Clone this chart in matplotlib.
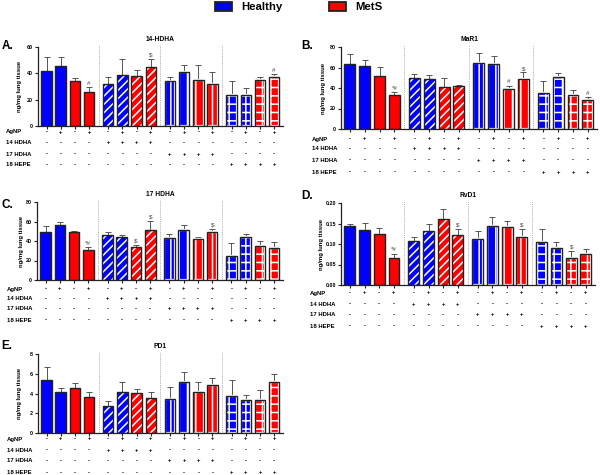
import matplotlib
matplotlib.use('Agg')
import matplotlib.pyplot as plt
from matplotlib.patches import Rectangle
import numpy as np

plt.rcParams['font.family'] = ['Liberation Sans', 'DejaVu Sans']
plt.rcParams['font.weight'] = 'bold'
plt.rcParams['hatch.linewidth'] = 1.1

# ---------------- data ----------------
groups = ['Healthy', 'Healthy', 'MetS', 'MetS'] * 4
row_labels = ['AgNP', '14 HDHA', '17 HDHA', '18 HEPE']
agnp = ['-', '+', '-', '+'] * 4
hdha14 = ['-'] * 4 + ['+'] * 4 + ['-'] * 8
hdha17 = ['-'] * 8 + ['+'] * 4 + ['-'] * 4
hepe18 = ['-'] * 12 + ['+'] * 4

titles = ['14-HDHA', 'MaR1', '17 HDHA', 'RvD1', 'PD1']
letters = ['A.', 'B.', 'C.', 'D.', 'E.']

a_vals = [41.4, 45.2, 34.2, 25.8, 31.9, 38.8, 38.0, 44.9, 34.2, 41.1, 35.2, 31.9, 23.7, 23.7, 34.7, 37.5]
a_err = [10.9, 6.9, 2.1, 3.6, 5.6, 12.0, 4.4, 5.9, 3.3, 5.6, 11.5, 8.9, 10.3, 5.4, 2.3, 1.8]
a_sig = ['', '', '', '#', '', '', '', '$', '', '', '', '', '', '', '', '#']

b_vals = [63.0, 61.1, 51.3, 33.3, 49.3, 49.0, 41.1, 41.5, 64.3, 63.3, 38.9, 48.7, 34.9, 50.6, 33.0, 28.7]
b_err = [10.1, 5.8, 8.8, 2.6, 3.9, 3.2, 8.2, 1.9, 9.8, 7.9, 3.2, 6.5, 12.4, 3.9, 4.6, 2.3]
b_sig = ['', '', '', '*#', '', '', '', '', '', '', '#', '$', '', '', '', '#']

c_vals = [49.1, 56.3, 48.8, 30.9, 45.7, 43.9, 34.3, 50.8, 43.3, 51.2, 41.9, 48.8, 24.7, 43.6, 35.0, 32.6]
c_err = [6.5, 3.4, 1.3, 2.7, 3.1, 2.5, 1.8, 9.6, 3.7, 5.1, 2.4, 3.4, 13.1, 3.4, 4.8, 6.2]
c_sig = ['', '', '', '*#', '', '', '$', '$', '', '', '', '$', '', '', '', '']

d_vals = [0.143, 0.134, 0.124, 0.065, 0.108, 0.131, 0.161, 0.122, 0.113, 0.144, 0.142, 0.118, 0.104, 0.090, 0.066, 0.076]
d_err = [0.006, 0.017, 0.015, 0.011, 0.010, 0.018, 0.024, 0.014, 0.018, 0.023, 0.013, 0.018, 0.033, 0.014, 0.018, 0.011]
d_sig = ['', '', '', '*#', '', '', '', '$', '', '', '', '$', '', '', '$', '']

e_vals = [5.36, 4.14, 4.58, 3.69, 2.71, 4.14, 4.07, 3.59, 3.42, 5.12, 4.20, 4.85, 3.76, 3.36, 3.36, 5.19]
e_err = [1.28, 0.44, 0.47, 0.45, 0.51, 0.98, 0.34, 0.61, 1.19, 1.02, 0.92, 0.68, 1.63, 0.47, 0.98, 0.74]
e_sig = [''] * 16

a_ticks = [0, 20, 40, 60]
b_ticks = [0, 20, 40, 60, 80]
c_ticks = [0, 20, 40, 60, 80]
d_ticks = [0.00, 0.05, 0.10, 0.15, 0.20]
e_ticks = [0, 2, 4, 6, 8]

# ---------------- style ----------------
colors = {'Healthy': '#0000FF', 'MetS': '#FF0000'}
hatches = [None, '////', '||', '++']
EDGE = '#222222'
ERR = '#555555'

W, H = 600, 475
fig = plt.figure(figsize=(6, 4.75), dpi=100)

# axes rectangles in pixels: left, top, right, bottom
rects = [(38, 47, 283, 126), (341, 47, 597, 129), (37, 202, 283, 280),
         (341, 203, 595, 285), (38, 354, 283, 433)]
row_offsets = [[6, 17, 28, 39], [10, 20, 31, 43], [9, 19, 29, 40],
               [8, 19, 30, 41], [6, 17, 28, 40]]
label_x = [6, 312, 7, 310, 7]
letter_pos = [(2, 46), (301, 46), (1, 205), (301, 196), (1, 346)]
ylab_x = [20, 324, 21, 321, 20]

panels = [(a_vals, a_err, a_sig, a_ticks, '{:.0f}'),
          (b_vals, b_err, b_sig, b_ticks, '{:.0f}'),
          (c_vals, c_err, c_sig, c_ticks, '{:.0f}'),
          (d_vals, d_err, d_sig, d_ticks, '{:.2f}'),
          (e_vals, e_err, e_sig, e_ticks, '{:.0f}')]

rows = [agnp, hdha14, hdha17, hepe18]
x = np.array([i + 0.35 * (i // 4) for i in range(16)])
bw = 0.74

for p, (vals, errs, sigs, ticks, fmt) in enumerate(panels):
    l, t, r, b = rects[p]
    ax = fig.add_axes([l / W, 1 - b / H, (r - l) / W, (b - t) / H])
    ymax = ticks[-1]
    for i in range(16):
        g = i // 4
        col = colors[groups[i]]
        h = hatches[g]
        ew = 1.6 if g >= 2 else 0.0
        ax.bar(x[i], vals[i], width=bw, color=col, edgecolor='white',
               linewidth=ew, hatch=h, zorder=2)
        ax.bar(x[i], vals[i], width=bw, fill=False, edgecolor=EDGE,
               linewidth=1.0, zorder=3)
    ax.errorbar(x, vals, yerr=[np.zeros(16), errs], fmt='none', ecolor=ERR,
                elinewidth=0.7, capsize=2.2, capthick=0.7, zorder=1)
    for i in range(16):
        if sigs[i]:
            ax.annotate(sigs[i], xy=(x[i], vals[i] + errs[i]), xytext=(0, 1.0),
                        textcoords='offset points', ha='center', va='bottom',
                        fontsize=4.5, color='#444444', fontweight='normal')
    # separators
    for gsep in range(1, 4):
        xs = (x[4 * gsep - 1] + x[4 * gsep]) / 2
        ax.plot([xs, xs], [0, ymax * 1.03], ls=(0, (1, 1.2)), color='#999999',
                lw=0.6, clip_on=False, zorder=0)
    ax.set_xlim(x[0] - 0.6, x[-1] + 0.62)
    ax.set_ylim(0, ymax)
    ax.set_yticks(ticks)
    ax.set_yticklabels([fmt.format(v) for v in ticks], fontsize=3.9)
    ax.set_xticks(x)
    ax.set_xticklabels([])
    ax.tick_params(axis='both', length=2.5, width=0.8, color='#222222', pad=1.2)
    for s in ['top', 'right']:
        ax.spines[s].set_visible(False)
    for s in ['left', 'bottom']:
        ax.spines[s].set_linewidth(0.9)
        ax.spines[s].set_color('#222222')
    # title
    ax.annotate(titles[p], xy=(0.5, 1.0), xycoords='axes fraction',
                xytext=(0, 3), textcoords='offset points', ha='center',
                va='bottom', fontsize=4.8)
    # ylabel
    ax.annotate('ng/mg lung tissue', xy=(0, 0.5), xycoords='axes fraction',
                xytext=(-(l - ylab_x[p]) * 0.72, 0), textcoords='offset points',
                rotation=90, ha='center', va='center', fontsize=4.3)
    # letter
    fig.text(letter_pos[p][0] / W, 1 - letter_pos[p][1] / H, letters[p],
             fontsize=8.5, ha='left', va='center')
    # table rows
    for k, row in enumerate(rows):
        off = row_offsets[p][k] * 0.72
        ax.annotate(row_labels[k], xy=(0, 0), xycoords='axes fraction',
                    xytext=(-(l - label_x[p]) * 0.72, -off),
                    textcoords='offset points', ha='left', va='center',
                    fontsize=4.3, annotation_clip=False)
        for i in range(16):
            ax.annotate(row[i], xy=(x[i], 0), xycoords=('data', 'axes fraction'),
                        xytext=(0, -off), textcoords='offset points',
                        ha='center', va='center', fontsize=4.3,
                        annotation_clip=False)

# legend
for (bx, tx, name) in [(215, 241, 'Healthy'), (329, 355, 'MetS')]:
    fig.patches.append(Rectangle((bx / W, 1 - 11 / H), 17 / W, 8.5 / H,
                                 transform=fig.transFigure,
                                 facecolor=colors[name], edgecolor='#222222',
                                 linewidth=1.3))
    fig.text(tx / W, 1 - 7 / H, name, fontsize=8.2, ha='left', va='center')

fig.savefig('out.png', dpi=100)
